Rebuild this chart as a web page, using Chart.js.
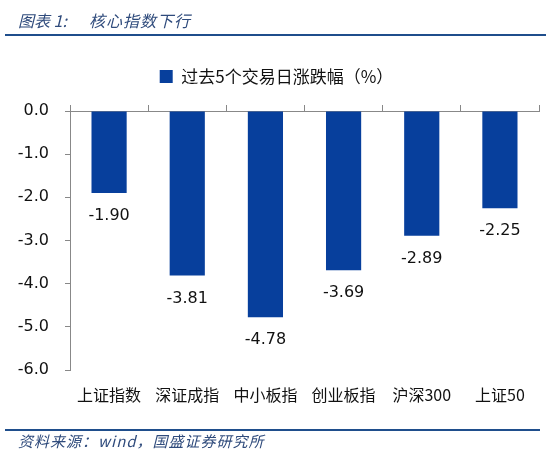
<!DOCTYPE html>
<html>
<head>
<meta charset="utf-8">
<script src="https://cdn.jsdelivr.net/npm/chart.js@4/dist/chart.umd.min.js"></script>
<style>
html,body{margin:0;padding:0;background:#fff;width:550px;height:456px;overflow:hidden;}
#wrap{position:relative;width:550px;height:456px;}
#title{position:absolute;left:18px;top:8px;font-family:"Noto Sans CJK SC";font-style:italic;font-size:16px;color:#2f4b7c;}
#title span{margin-left:22px;letter-spacing:1px;}
#tline{position:absolute;left:5px;top:34px;width:541px;height:2px;background:#1f4e8c;}
#bline{position:absolute;left:5px;top:429px;width:535px;height:2px;background:#1f4e8c;}
#foot{position:absolute;left:18px;top:430px;font-family:"Noto Sans CJK SC";font-style:italic;font-size:15px;color:#2f4b7c;letter-spacing:1px;}
canvas{position:absolute;left:0;top:0;}
</style>
</head>
<body>
<div id="wrap">
<canvas id="c" width="550" height="456"></canvas>
<div id="title">图表 1:<span>核心指数下行</span></div>
<div id="tline"></div>
<div id="bline"></div>
<div id="foot">资料来源：wind，国盛证券研究所</div>
</div>
<script>
const categories = ["上证指数","深证成指","中小板指","创业板指","沪深300","上证50"];
const values = [-1.90,-3.81,-4.78,-3.69,-2.89,-2.25];
const seriesName = "过去5个交易日涨跌幅（%）";
const yTicks = [0,-1,-2,-3,-4,-5,-6];

const labelPlugin = {
  id:'vlabels',
  afterDatasetsDraw(chart){
    const ctx = chart.ctx;
    const meta = chart.getDatasetMeta(0);
    ctx.save();
    ctx.font = '16px "DejaVu Sans"';
    ctx.fillStyle = '#111';
    ctx.textAlign = 'center';
    ctx.textBaseline = 'top';
    meta.data.forEach((bar,i)=>{
      ctx.fillText(values[i].toFixed(2), bar.x, bar.y + 15);
    });
    ctx.restore();
  }
};

new Chart(document.getElementById('c'),{
  type:'bar',
  data:{labels:categories,datasets:[{label:seriesName,data:values,backgroundColor:'#073f9c',borderWidth:0,barPercentage:0.45,categoryPercentage:1,xAxisID:'x',yAxisID:'y'}]},
  options:{
    responsive:false,animation:false,
    devicePixelRatio:1,
    layout:{padding:{left:14,right:11,top:60,bottom:0}},
    plugins:{
      legend:{display:true,position:'top',
        labels:{boxWidth:13,boxHeight:13,padding:8,color:'#111',font:{family:'"Noto Sans CJK SC"',size:17}}},
      tooltip:{enabled:false}
    },
    scales:{
      x:{type:'category',position:'bottom',
        grid:{display:false},border:{display:false},
        ticks:{color:'#111',padding:7,font:{family:'"Noto Sans CJK SC"',size:16},maxRotation:0},
        afterFit(s){s.height=86;}
      },
      x2:{type:'category',position:'top',labels:categories,
        grid:{display:true,offset:true,drawOnChartArea:false,drawTicks:true,tickLength:6,color:'#888'},
        border:{display:true,color:'#888',width:1},
        ticks:{display:false},
        afterFit(s){s.height=16;}
      },
      y:{min:-6,max:0,
        afterBuildTicks(s){s.ticks=yTicks.map(v=>({value:v}));},
        grid:{display:true,drawOnChartArea:false,drawTicks:true,tickLength:5,color:'#888'},
        border:{display:true,color:'#888',width:1},
        ticks:{color:'#111',padding:16,font:{family:'"DejaVu Sans"',size:16},callback:v=>Number(v).toFixed(1)},
        afterFit(s){s.width=56;}
      }
    }
  },
  plugins:[labelPlugin]
});
</script>
</body>
</html>
